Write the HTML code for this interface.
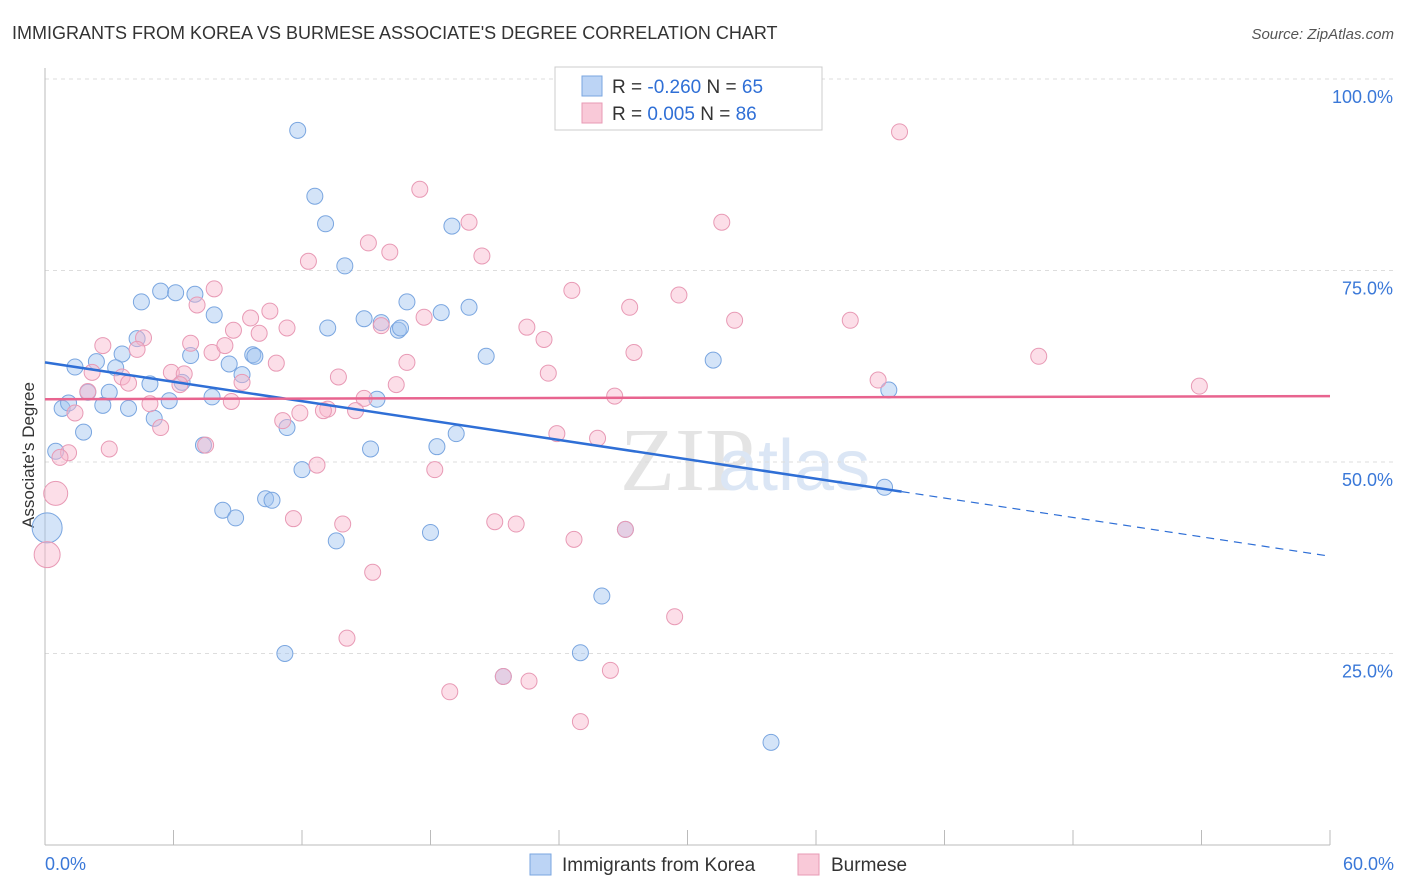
<!DOCTYPE html>
<html><head><meta charset="utf-8"><style>
body{margin:0;background:#fff;font-family:"Liberation Sans",sans-serif;}
#wrap{position:relative;width:1406px;height:892px;overflow:hidden;}
</style></head><body>
<div id="wrap">
<svg id="svg" width="1406" height="892" xmlns="http://www.w3.org/2000/svg">
<text x="12" y="39" font-size="18" fill="#333">IMMIGRANTS FROM KOREA VS BURMESE ASSOCIATE'S DEGREE CORRELATION CHART</text>
<text x="1394" y="39" font-size="15" fill="#555" font-style="italic" text-anchor="end">Source: ZipAtlas.com</text>
<text x="34" y="455" font-size="17" fill="#333" text-anchor="middle" transform="rotate(-90 34 455)">Associate's Degree</text>
<text x="620" y="490" font-size="90" fill="#e4e4e4" font-family="Liberation Serif">ZIP</text>
<text x="718" y="490" font-size="72" fill="#dbe6f5">atlas</text>
<g id="grid"></g><g id="pts"></g><g id="lines"></g>
<g>
<rect x="555" y="67" width="267" height="63" fill="#fff" stroke="#ccc"/>
<rect x="582" y="76" width="20" height="20" fill="#bcd4f5" stroke="#7aa6e0"/>
<rect x="582" y="103" width="20" height="20" fill="#f9c9d8" stroke="#e89ab5"/>
<text x="612" y="93" font-size="19" fill="#333">R = <tspan fill="#2f6fd6">-0.260</tspan>   N = <tspan fill="#2f6fd6">65</tspan></text>
<text x="612" y="120" font-size="19" fill="#333">R =  <tspan fill="#2f6fd6">0.005</tspan>   N = <tspan fill="#2f6fd6">86</tspan></text>
</g>
<g>
<rect x="530" y="854" width="21" height="21" fill="#bcd4f5" stroke="#7aa6e0"/>
<text x="562" y="871" font-size="19" fill="#333">Immigrants from Korea</text>
<rect x="798" y="854" width="21" height="21" fill="#f9c9d8" stroke="#e89ab5"/>
<text x="831" y="871" font-size="19" fill="#333">Burmese</text>
</g>
</svg></div>
<script>
const yTicks=[25,50,75,100];
const xTickLabels=["0.0%","60.0%"];
const koreaX=[11.8,12.6,13.1,14.0,19.0,4.5,5.4,6.1,7.0,7.9,13.2,14.9,15.7,16.5,16.6,16.9,18.5,19.8,20.6,31.2,39.4,4.3,2.4,3.6,1.4,3.3,4.9,6.4,6.8,8.6,9.7,9.8,9.2,7.8,5.8,15.5,5.1,2.7,3.9,0.8,1.1,2.0,3.0,1.8,0.5,7.4,11.3,15.2,18.3,19.2,12.0,39.2,10.3,10.6,8.3,8.9,0.1,13.6,18.0,26.0,11.2,25.0,21.4,33.9,27.1];
const koreaY=[93.3,84.7,81.1,75.6,80.8,70.9,72.3,72.1,71.9,69.2,67.5,68.7,68.2,67.2,67.5,70.9,69.5,70.2,63.8,63.3,59.4,66.1,63.1,64.1,62.4,62.3,60.2,60.4,63.9,62.8,64.0,63.8,61.4,58.5,58.0,58.2,55.7,57.4,57.0,57.0,57.7,59.1,59.1,53.9,51.4,52.2,54.5,51.7,52.0,53.7,49.0,46.7,45.2,45.0,43.7,42.7,41.4,39.7,40.8,32.5,25.0,25.1,22.0,13.4,41.2];
const burmX=[39.9,17.5,19.8,31.6,15.1,16.1,20.4,12.3,7.9,7.1,10.5,24.6,29.6,27.3,32.2,37.6,11.3,8.8,9.6,10.0,15.7,17.7,22.5,23.3,4.6,2.7,4.3,6.8,7.8,8.4,10.8,16.9,27.5,46.4,53.9,23.5,2.2,3.6,3.9,5.9,6.5,9.2,13.7,16.4,6.3,2.0,26.6,14.9,4.9,8.7,1.4,13.2,14.5,13.0,11.9,11.1,5.4,23.9,25.8,7.5,3.0,1.1,0.7,18.2,12.7,38.9,0.5,11.6,13.9,21.0,22.0,24.7,0.1,15.3,27.1,14.1,29.4,26.4,18.9,22.6,21.4,25.0];
const burmY=[93.1,85.6,81.3,81.3,78.6,77.4,76.9,76.2,72.6,70.5,69.7,72.4,71.8,70.2,68.5,68.5,67.5,67.2,68.8,66.8,67.8,68.9,67.6,66.0,66.2,65.2,64.7,65.5,64.3,65.2,62.9,63.0,64.3,63.8,59.9,61.6,61.7,61.1,60.3,61.7,61.5,60.4,61.1,60.1,60.1,59.2,58.6,58.3,57.6,57.9,56.4,56.9,56.7,56.7,56.4,55.4,54.5,53.7,53.1,52.2,51.7,51.2,50.6,49.0,49.6,60.7,45.9,42.6,41.9,42.2,41.9,39.9,37.9,35.6,41.2,27.0,29.8,22.8,20.0,21.4,22.0,16.1];
const koreaTrend=[63.0,37.7]; // at x=0 and x=60
const burmTrend=[58.2,58.6];
const koreaSolidEnd=40;
const bigK={56:15,0:0}; const bigB={66:12,72:13};
const X=v=>45+v/60*1285, Y=v=>845-v*7.66;
const NS="http://www.w3.org/2000/svg";
function mk(t,a,p){const e=document.createElementNS(NS,t);for(const k in a)e.setAttribute(k,a[k]);p.appendChild(e);return e;}
const grid=document.getElementById('grid');
yTicks.forEach(t=>{
 const l=mk('line',{x1:45,x2:1394,y1:Y(t),y2:Y(t),stroke:'#ddd','stroke-dasharray':'4,4'},grid);
 
 
 const tx=mk('text',{x:1393,y:Y(t)+24,'font-size':18,fill:'#3a78d8','text-anchor':'end'},grid);
 tx.textContent=t.toFixed(1)+'%';
 
 
});
const ax=mk('line',{x1:45,x2:1330,y1:845,y2:845,stroke:'#bbb'},grid);


const ay=mk('line',{x1:45,x2:45,y1:68,y2:845,stroke:'#bbb'},grid);


for(let i=0;i<=10;i++){const t=mk('line',{x1:X(i*6),x2:X(i*6),y1:830,y2:845,stroke:'#bbb'},grid);
 
 }
[[0,'start',45],[1,'end',1394]].forEach(([i,a,x])=>{const t=mk('text',{x:x,y:870,'font-size':18,fill:'#3a78d8','text-anchor':a},grid);t.textContent=xTickLabels[i];
 
 });
const pts=document.getElementById('pts');
koreaX.forEach((v,i)=>{const c=mk('circle',{cx:X(v),cy:Y(koreaY[i]),r:bigK[i]||8,fill:'rgba(160,196,240,0.45)',stroke:'#7aa6e0','stroke-width':1},pts);
 
 });
burmX.forEach((v,i)=>{const c=mk('circle',{cx:X(v),cy:Y(burmY[i]),r:bigB[i]||8,fill:'rgba(248,182,204,0.45)',stroke:'#e89ab5','stroke-width':1},pts);
 
 });
const lines=document.getElementById('lines');
const kf=x=>koreaTrend[0]+(koreaTrend[1]-koreaTrend[0])*x/60;
const l1=mk('line',{x1:X(0),y1:Y(kf(0)),x2:X(koreaSolidEnd),y2:Y(kf(koreaSolidEnd)),stroke:'#2f6fd6','stroke-width':2.5},lines);


const l2=mk('line',{x1:X(koreaSolidEnd),y1:Y(kf(koreaSolidEnd)),x2:X(60),y2:Y(kf(60)),stroke:'#2f6fd6','stroke-width':1.2,'stroke-dasharray':'8,6'},lines);


const l3=mk('line',{x1:X(0),y1:Y(burmTrend[0]),x2:X(60),y2:Y(burmTrend[1]),stroke:'#e8648f','stroke-width':2.5},lines);


</script>
</body></html>
